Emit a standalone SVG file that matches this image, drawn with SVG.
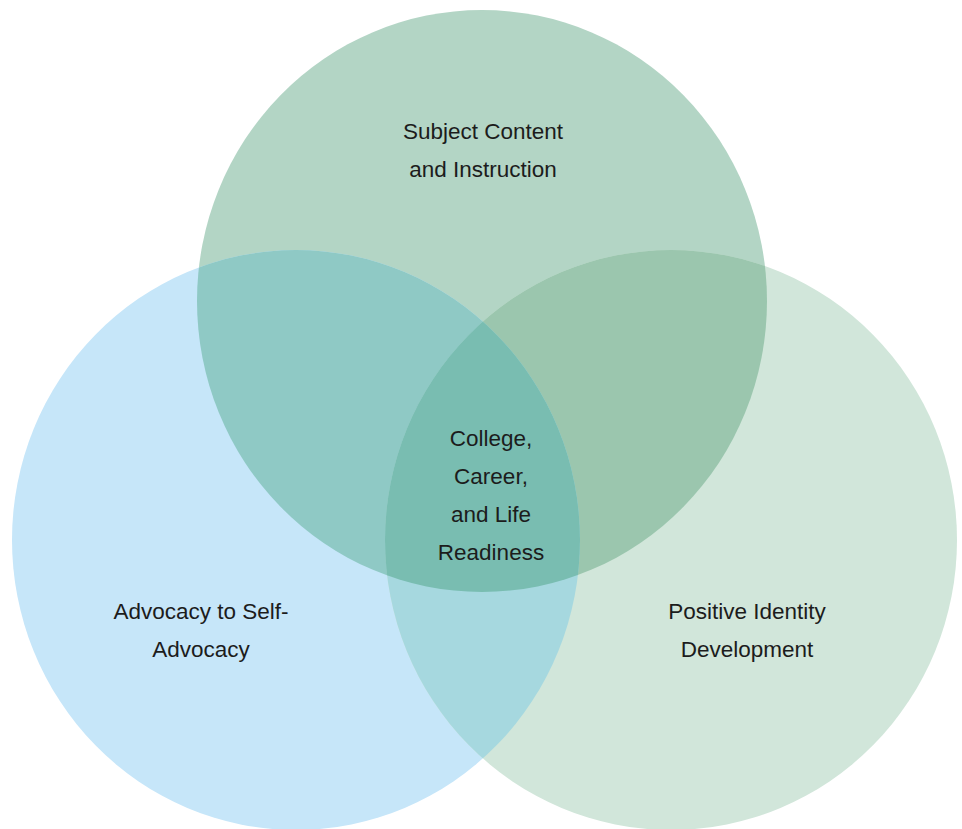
<svg xmlns="http://www.w3.org/2000/svg" width="962" height="829" viewBox="0 0 962 829">
<style>
  text { font-family: "Liberation Sans", Arial, sans-serif; font-size: 22.5px; fill: #1c1c1c; text-anchor: middle; }
</style>
<defs>
  <ellipse id="cTop" cx="482" cy="301" rx="285" ry="291"/>
  <ellipse id="cLeft" cx="296" cy="540" rx="284" ry="290"/>
  <ellipse id="cRight" cx="671" cy="540" rx="286" ry="290"/>
  <clipPath id="clipTop"><use href="#cTop"/></clipPath>
  <clipPath id="clipLeft"><use href="#cLeft"/></clipPath>
  <clipPath id="clipRight"><use href="#cRight"/></clipPath>
</defs>
<rect width="962" height="829" fill="#ffffff"/>
<g id="circle-top"><use href="#cTop" fill="#b3d5c5"/></g>
<g id="circle-left"><use href="#cLeft" fill="#c6e6f9"/></g>
<g id="circle-right"><use href="#cRight" fill="#d1e6da"/></g>
<g id="overlaps">
  <g clip-path="url(#clipTop)"><use href="#cLeft" fill="#8fc9c5"/></g>
  <g clip-path="url(#clipTop)"><use href="#cRight" fill="#9bc6ae"/></g>
  <g clip-path="url(#clipLeft)"><use href="#cRight" fill="#a6d8df"/></g>
  <g clip-path="url(#clipTop)"><g clip-path="url(#clipLeft)"><use href="#cRight" fill="#79bdb1"/></g></g>
</g>
<g id="label-top">
  <text x="483" y="139">Subject Content</text>
  <text x="483" y="177">and Instruction</text>
</g>
<g id="label-center">
  <text x="491" y="446">College,</text>
  <text x="491" y="484">Career,</text>
  <text x="491" y="522">and Life</text>
  <text x="491" y="560">Readiness</text>
</g>
<g id="label-left">
  <text x="201" y="619">Advocacy to Self-</text>
  <text x="201" y="657">Advocacy</text>
</g>
<g id="label-right">
  <text x="747" y="619">Positive Identity</text>
  <text x="747" y="657">Development</text>
</g>
</svg>
